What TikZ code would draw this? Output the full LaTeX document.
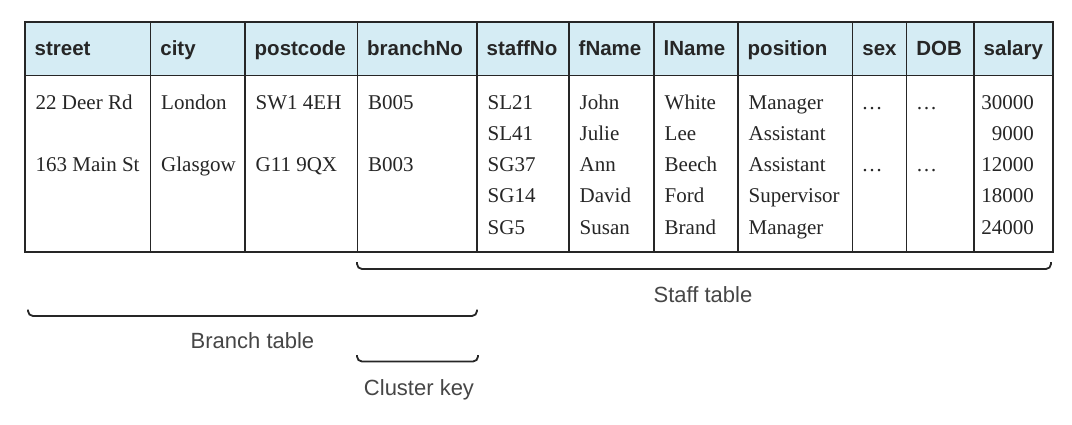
\documentclass[tikz,border=0pt]{standalone}
\usepackage{fontspec}
\setmainfont{Liberation Serif}
\setsansfont{Liberation Sans}
\definecolor{hdr}{RGB}{213,236,244}
\definecolor{ink}{RGB}{38,38,38}
\definecolor{lbl}{RGB}{70,70,70}
\begin{document}
\begin{tikzpicture}[x=1pt,y=-1pt,
  hdrtext/.style={anchor=base west, inner sep=0pt, font=\sffamily\bfseries\fontsize{20.5}{24}\selectfont, text=ink},
  cell/.style={anchor=base west, inner sep=0pt, font=\fontsize{21}{25}\selectfont, text=ink},
  cellr/.style={cell, anchor=base east},
  lbltext/.style={inner sep=0pt, font=\sffamily\fontsize{22}{26}\selectfont, text=lbl, anchor=base},
  brace/.style={draw=ink, line width=1.8pt, rounded corners=5pt},
  gridline/.style={draw=ink, line width=1.5pt},
  frame/.style={draw=ink, line width=2pt}]

\useasboundingbox (0,0) rectangle (1072,424);
\fill[white] (0,0) rectangle (1072,424);

% header band
\fill[hdr] (25,22.3) rectangle (1052.7,75.7);
\foreach \x in {150.7,245,357.5,477,569,654,738,852.7,906.7,974}
  \draw[gridline] (\x,22.3) -- (\x,252.3);
\draw[gridline] (25,75.7) -- (1052.7,75.7);
\draw[frame] (25,22.3) rectangle (1052.7,252.3);

% header texts
\foreach \x/\t [count=\i] in {25/street,150.7/city,245/postcode,357.5/branchNo,477/staffNo,569/fName,654/lName,738/position,852.7/sex,906.7/DOB,974/salary}
  \node[hdrtext] (h\i) at (\x+9.5,55.7) {\t};

% rows
\def\ra{109}\def\rb{140.3}\def\rc{171.6}\def\rd{202.9}\def\re{234.2}

\node[cell] (st1) at (35.5,\ra) {22 Deer Rd};
\node[cell] (st2) at (35.5,\rc) {163 Main St};
\node[cell] (ci1) at (161,\ra) {London};
\node[cell] (ci2) at (161,\rc) {Glasgow};
\node[cell] (pc1) at (255.5,\ra) {SW1 4EH};
\node[cell] (pc2) at (255.5,\rc) {G11 9QX};
\node[cell] (bn1) at (368,\ra) {B005};
\node[cell] (bn2) at (368,\rc) {B003};

\foreach \r/\a/\b/\c/\d [count=\i] in {\ra/SL21/John/White/Manager,\rb/SL41/Julie/Lee/Assistant,\rc/SG37/Ann/Beech/Assistant,\rd/SG14/David/Ford/Supervisor,\re/SG5/Susan/Brand/Manager}{
  \node[cell] (sn\i) at (487.5,\r) {\a};
  \node[cell] (fn\i) at (579.5,\r) {\b};
  \node[cell] (ln\i) at (664.5,\r) {\c};
  \node[cell] (po\i) at (748.5,\r) {\d};
}

\node[cell] (sx1) at (861.5,\ra) {…};
\node[cell] (sx2) at (861.5,\rc) {…};
\node[cell] (db1) at (916,\ra) {…};
\node[cell] (db2) at (916,\rc) {…};

\foreach \r/\v [count=\i] in {\ra/30000,\rb/9000,\rc/12000,\rd/18000,\re/24000}
  \node[cellr] (sa\i) at (1034,\r) {\v};

% brackets
\draw[brace] (357,262) -- (357,269) -- (1051,269) -- (1051,262);
\draw[brace] (28,309.5) -- (28,316) -- (477,316) -- (477,309.5);
\draw[brace] (357,355) -- (357,361.5) -- (478,361.5) -- (478,355);

% labels
\node[lbltext] (staff) at (703,302) {Staff table};
\node[lbltext] (branch) at (252.5,348) {Branch table};
\node[lbltext] (cluster) at (419,395) {Cluster key};
\end{tikzpicture}
\end{document}
